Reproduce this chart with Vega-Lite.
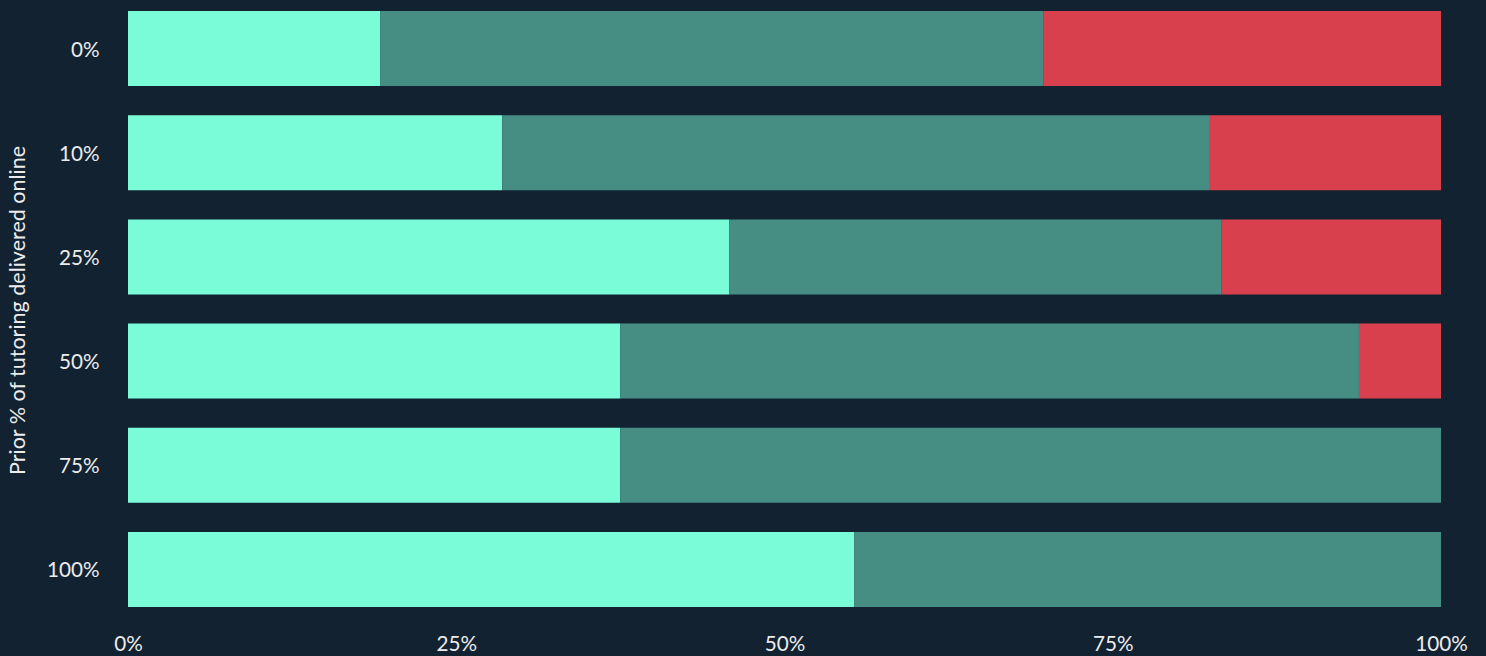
{
  "$schema": "https://vega.github.io/schema/vega-lite/v6.json",
  "width": 1313,
  "height": 618,
  "autosize": {"type": "none"},
  "padding": {"left": 128, "top": 0, "right": 45, "bottom": 38},
  "background": "#132231",
  "config": {
    "view": {"stroke": null},
    "font": "Lato",
    "axis": {"labelFont": "Lato", "titleFont": "Lato", "labelColor": "#ececec", "titleColor": "#ececec", "grid": false, "domain": false, "ticks": false, "tickSize": 0}
  },
  "data": {
    "values": [
      {"prior": "0%", "outcome": "Better", "share": 19.2},
      {"prior": "0%", "outcome": "Same", "share": 50.5},
      {"prior": "0%", "outcome": "Worse", "share": 30.3},
      {"prior": "10%", "outcome": "Better", "share": 28.5},
      {"prior": "10%", "outcome": "Same", "share": 53.9},
      {"prior": "10%", "outcome": "Worse", "share": 17.6},
      {"prior": "25%", "outcome": "Better", "share": 45.8},
      {"prior": "25%", "outcome": "Same", "share": 37.5},
      {"prior": "25%", "outcome": "Worse", "share": 16.7},
      {"prior": "50%", "outcome": "Better", "share": 37.5},
      {"prior": "50%", "outcome": "Same", "share": 56.25},
      {"prior": "50%", "outcome": "Worse", "share": 6.25},
      {"prior": "75%", "outcome": "Better", "share": 37.5},
      {"prior": "75%", "outcome": "Same", "share": 62.5},
      {"prior": "100%", "outcome": "Better", "share": 55.3},
      {"prior": "100%", "outcome": "Same", "share": 44.7}
    ]
  },
  "mark": {"type": "bar"},
  "encoding": {
    "y": {
      "field": "prior",
      "type": "nominal",
      "sort": ["0%", "10%", "25%", "50%", "75%", "100%"],
      "scale": {"paddingInner": 0.28, "paddingOuter": 0.106},
      "axis": {
        "title": "Prior % of tutoring delivered online",
        "labelFontSize": 20.7,
        "labelPadding": 29,
        "labelOffset": 2,
        "titleFontSize": 21.5,
        "titleFontWeight": "normal",
        "titleAngle": -90,
        "titleX": -110,
        "titleY": 310,
        "titleAlign": "center",
        "titleBaseline": "middle"
      }
    },
    "x": {
      "field": "share",
      "type": "quantitative",
      "stack": "normalize",
      "scale": {"domain": [0, 1]},
      "axis": {
        "title": null,
        "values": [0, 0.25, 0.5, 0.75, 1],
        "format": ".0%",
        "labelFontSize": 20.7,
        "labelPadding": 16,
        "labelFlush": false
      }
    },
    "color": {
      "field": "outcome",
      "type": "nominal",
      "sort": ["Better", "Same", "Worse"],
      "scale": {"domain": ["Better", "Same", "Worse"], "range": ["#7bfcd9", "#468e83", "#d8404e"]},
      "legend": null
    }
  }
}
